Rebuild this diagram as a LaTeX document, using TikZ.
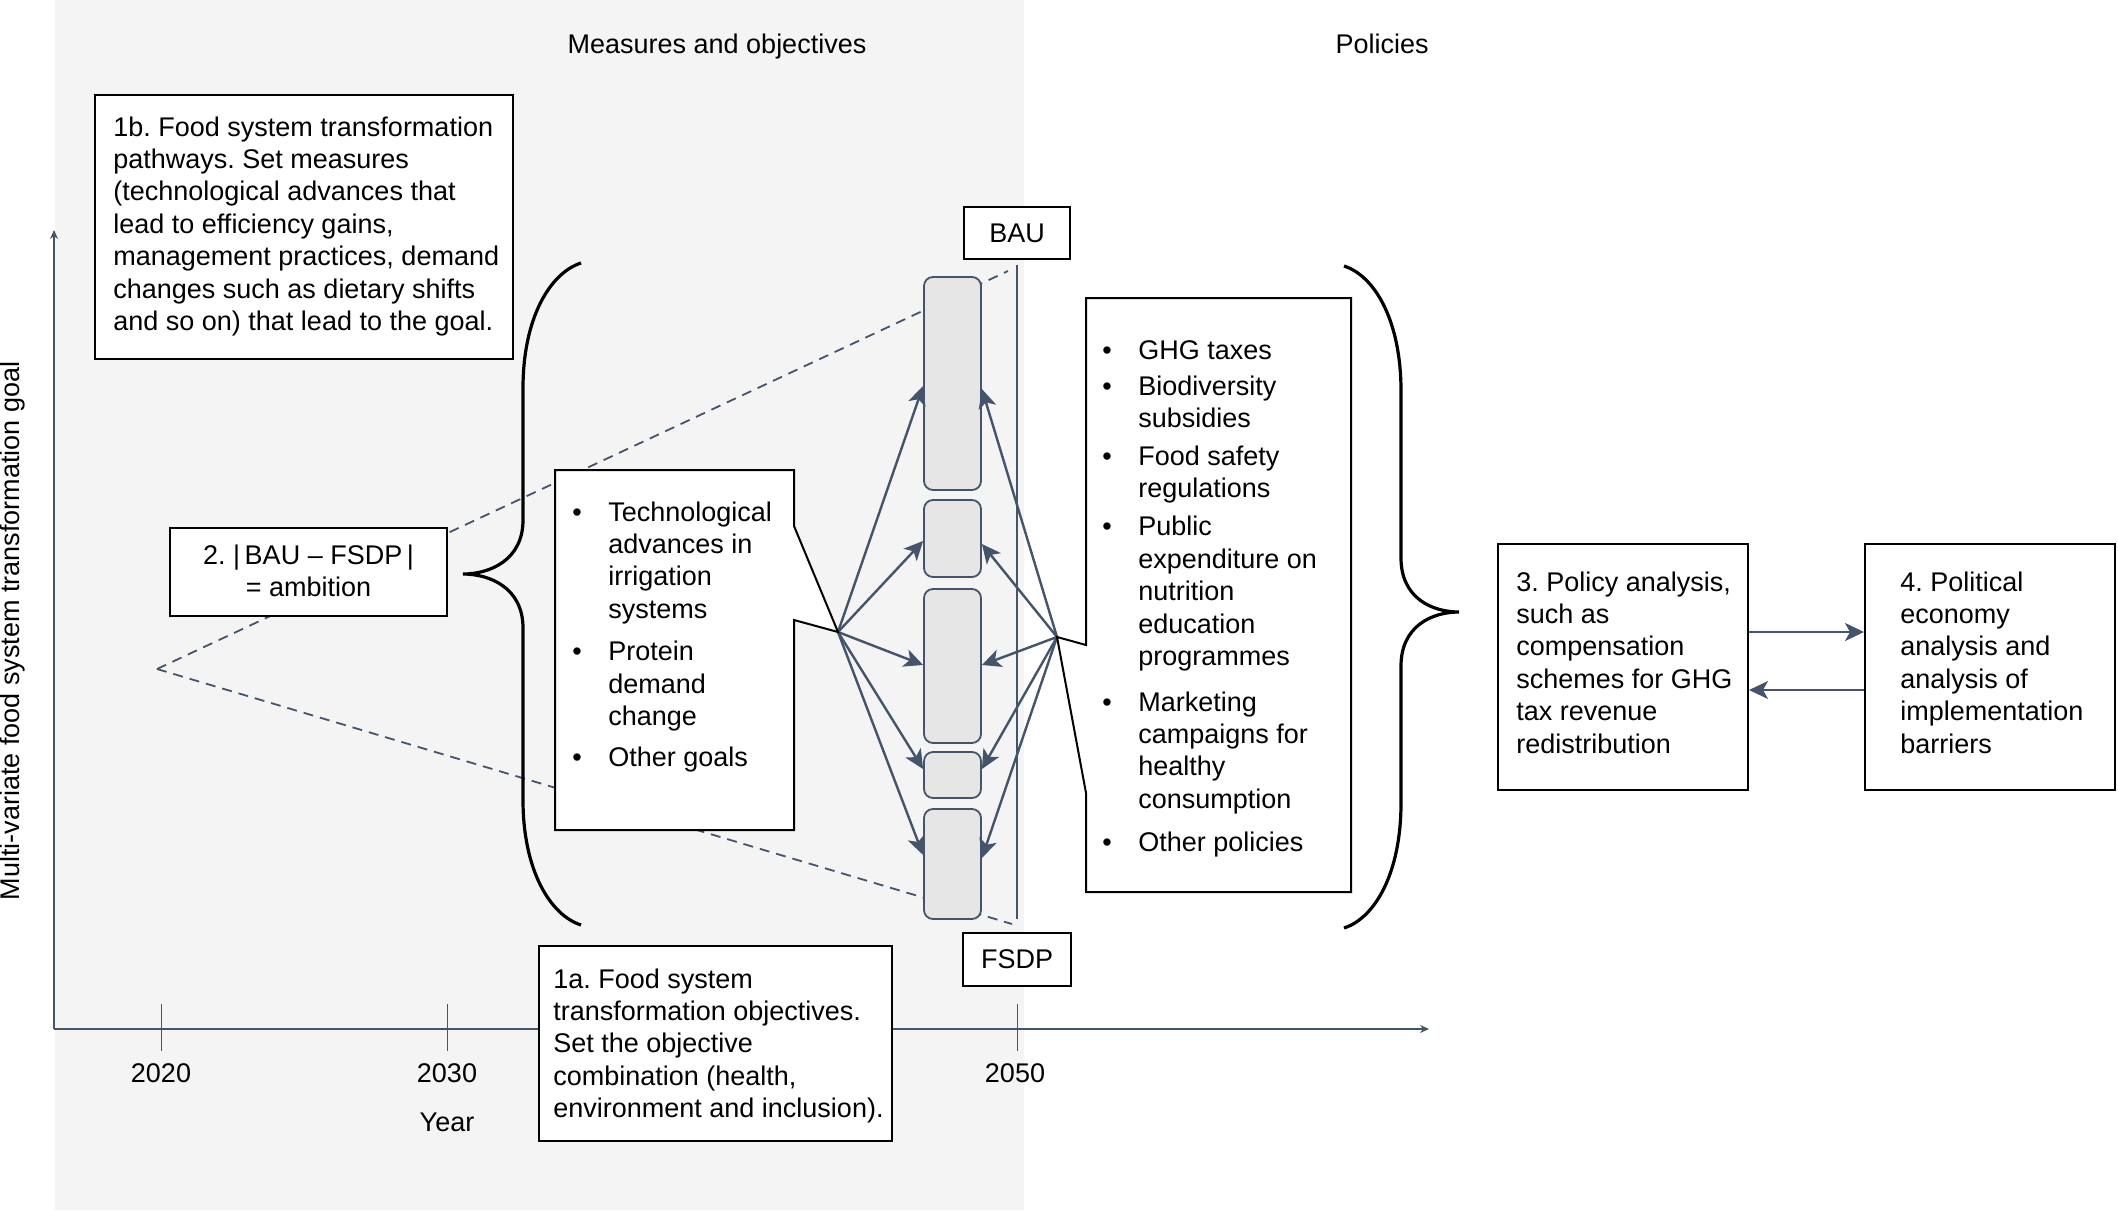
\documentclass[tikz,border=0pt]{standalone}
\usepackage{fontspec}
\setmainfont{Liberation Sans}
\usetikzlibrary{arrows.meta,fit}
\definecolor{slate}{HTML}{44546A}
\definecolor{bggray}{HTML}{F4F4F4}
\definecolor{boxgray}{HTML}{E6E6E6}
\frenchspacing
\begin{document}
\begin{tikzpicture}[x=0.5pt,y=-0.5pt,
  txt/.style={font=\fontsize{13.5}{16.2}\selectfont, inner sep=0pt},
  frame/.style={draw=black, line width=1pt, fill=white, inner sep=0pt},
  gbox/.style={draw=slate, line width=0.9pt, fill=boxgray, rounded corners=4.5pt, inner sep=0pt},
  fan/.style={draw=slate, line width=1.2pt, -{Stealth[length=9.5pt,width=9pt,inset=2.5pt]}},
  axis/.style={draw=slate, line width=0.6pt},
  dashline/.style={draw=slate, line width=0.9pt, dash pattern=on 5pt off 3.5pt},
  brace/.style={draw=black, line width=1.6pt},
]
\useasboundingbox (0,0) rectangle (2118,1210);
% background panel
\fill[bggray] (55,0) rectangle (1024,1210);

% axes
\coordinate (origin) at (54,1029);
\coordinate (ytop) at (54,230);
\coordinate (xend) at (1429,1029);
\draw[axis, -{Stealth[length=4.5pt,width=4pt]}] (origin) -- (ytop);
\draw[axis, -{Stealth[length=4.5pt,width=4pt]}] (origin) -- (xend);
\draw[axis, line width=0.5pt] (161,1004) -- (161,1051);
\draw[axis, line width=0.5pt] (447,1004) -- (447,1051);
\draw[axis, line width=0.5pt] (1017,1004) -- (1017,1051);

% dashed ambition cone
\coordinate (apex) at (157,669);
\coordinate (dtop) at (1008,271);
\coordinate (dbot) at (1012,924);
\draw[dashline] (apex) -- (dtop);
\draw[dashline] (apex) -- (dbot);

% 2050 vertical line
\draw[draw=slate, line width=0.8pt] (1017,265) -- (1017,919);

% gray pathway boxes
\node[gbox, fit={(924,277)(981,490)}] (g1) {};
\node[gbox, fit={(924,500)(981,577)}] (g2) {};
\node[gbox, fit={(924,589)(981,743)}] (g3) {};
\node[gbox, fit={(924,752)(981,798)}] (g4) {};
\node[gbox, fit={(924,809)(981,919)}] (g5) {};

% callout tips
\coordinate (mtip) at (838,632);
\coordinate (ptip) at (1057,637);

% fan arrows
\draw[fan] (mtip) -- (g1.west |- 0,386);
\draw[fan] (mtip) -- (g2.west |- 0,541);
\draw[fan] (mtip) -- (g3.west |- 0,665);
\draw[fan] (mtip) -- (g4.west |- 0,769);
\draw[fan] (mtip) -- (g5.west |- 0,855);
\draw[fan] (ptip) -- (g1.east |- 0,389);
\draw[fan] (ptip) -- (g2.east |- 0,544);
\draw[fan] (ptip) -- (g3.east |- 0,665);
\draw[fan] (ptip) -- (g4.east |- 0,769);
\draw[fan] (ptip) -- (g5.east |- 0,858);

% callout boxes
\draw[frame] (555,470) -- (794,470) -- (794,526) -- (mtip) -- (794,620) -- (794,830) -- (555,830) -- cycle;
\draw[frame] (1086,298) -- (1351,298) -- (1351,892) -- (1086,892) -- (1086,793) -- (ptip) -- (1086,645) -- cycle;

% braces
\draw[brace] (581,263) .. controls (550,273) and (523,318) .. (523,388) -- (523,520)
  .. controls (523,560) and (490,574) .. (463,574)
  .. controls (490,574) and (523,588) .. (523,628) -- (523,800)
  .. controls (523,870) and (550,915) .. (581,925);
\draw[brace] (1344,266) .. controls (1375,276) and (1401,321) .. (1401,391) -- (1401,558)
  .. controls (1401,598) and (1432,612) .. (1459,612)
  .. controls (1432,612) and (1401,626) .. (1401,666) -- (1401,803)
  .. controls (1401,873) and (1375,918) .. (1344,928);

% boxes
\node[frame, fit={(95,95)(513,359)}] (b1b) {};
\node[frame, fit={(170,528)(447,616)}] (b2) {};
\node[frame, fit={(539,946)(892,1141)}] (b1a) {};
\node[frame, fit={(964,207)(1070,259)}] (bbau) {};
\node[frame, fit={(963,933)(1071,986)}] (bfsdp) {};
\node[frame, fit={(1498,544)(1748,790)}] (b3) {};
\node[frame, fit={(1865,544)(2115,790)}] (b4) {};

% arrows between 3 and 4
\draw[fan] (b3.east |- 0,632) -- (b4.west |- 0,632);
\draw[fan] (b4.west |- 0,690) -- (b3.east |- 0,690);

% texts
\node[txt, anchor=base] (tmeas0) at (717,53) {Measures and objectives};
\node[txt, anchor=base] (tpol0) at (1382,53) {Policies};
\node[txt, rotate=90] (ylab) at (13,631) {Multi-variate food system transformation goal};
\node[txt] (y2020) at (161,1073) {2020};
\node[txt] (y2030) at (447,1073) {2030};
\node[txt] (y2050) at (1015,1073) {2050};
\node[txt] (year) at (447,1122) {Year};
\node[txt] (tbau) at (bbau.center) {BAU};
\node[txt] (tfsdp) at (bfsdp.center) {FSDP};

\node[txt, anchor=base west] (t1b) at (113,136) {\begin{tabular}[t]{@{}l@{}}1b. Food system transformation\\pathways. Set measures\\(technological advances that\\lead to efficiency gains,\\management practices, demand\\changes such as dietary shifts\\and so on) that lead to the goal.\end{tabular}};

\node[txt, anchor=base] (t2) at (308.5,564) {\begin{tabular}[t]{@{}c@{}}2.\ |\,BAU – FSDP\,|\\= ambition\end{tabular}};

\node[txt, anchor=base west] (tmeas) at (572,521) {\begin{tabular}[t]{@{}p{18pt}@{}l@{}}\textbullet & Technological\\ & advances in\\ & irrigation\\ & systems\\[5pt] \textbullet & Protein\\ & demand\\ & change\\[4.5pt] \textbullet & Other goals\end{tabular}};

\node[txt, anchor=base west] (tpol) at (1102,359) {\begin{tabular}[t]{@{}p{18pt}@{}l@{}}\textbullet & GHG taxes\\[1.8pt] \textbullet & Biodiversity\\ & subsidies\\[2.8pt] \textbullet & Food safety\\ & regulations\\[2.8pt] \textbullet & Public\\ & expenditure on\\ & nutrition\\ & education\\ & programmes\\[6.6pt] \textbullet & Marketing\\ & campaigns for\\ & healthy\\ & consumption\\[5.6pt] \textbullet & Other policies\end{tabular}};

\node[txt, anchor=base west] (t1a) at (553,988) {\begin{tabular}[t]{@{}l@{}}1a. Food system\\transformation objectives.\\Set the objective\\combination (health,\\environment and inclusion).\end{tabular}};

\node[txt, anchor=base west] (t3) at (1516,591) {\begin{tabular}[t]{@{}l@{}}3. Policy analysis,\\such as\\compensation\\schemes for GHG\\tax revenue\\redistribution\end{tabular}};

\node[txt, anchor=base west] (t4) at (1900,591) {\begin{tabular}[t]{@{}l@{}}4. Political\\economy\\analysis and\\analysis of\\implementation\\barriers\end{tabular}};
\end{tikzpicture}
\end{document}
